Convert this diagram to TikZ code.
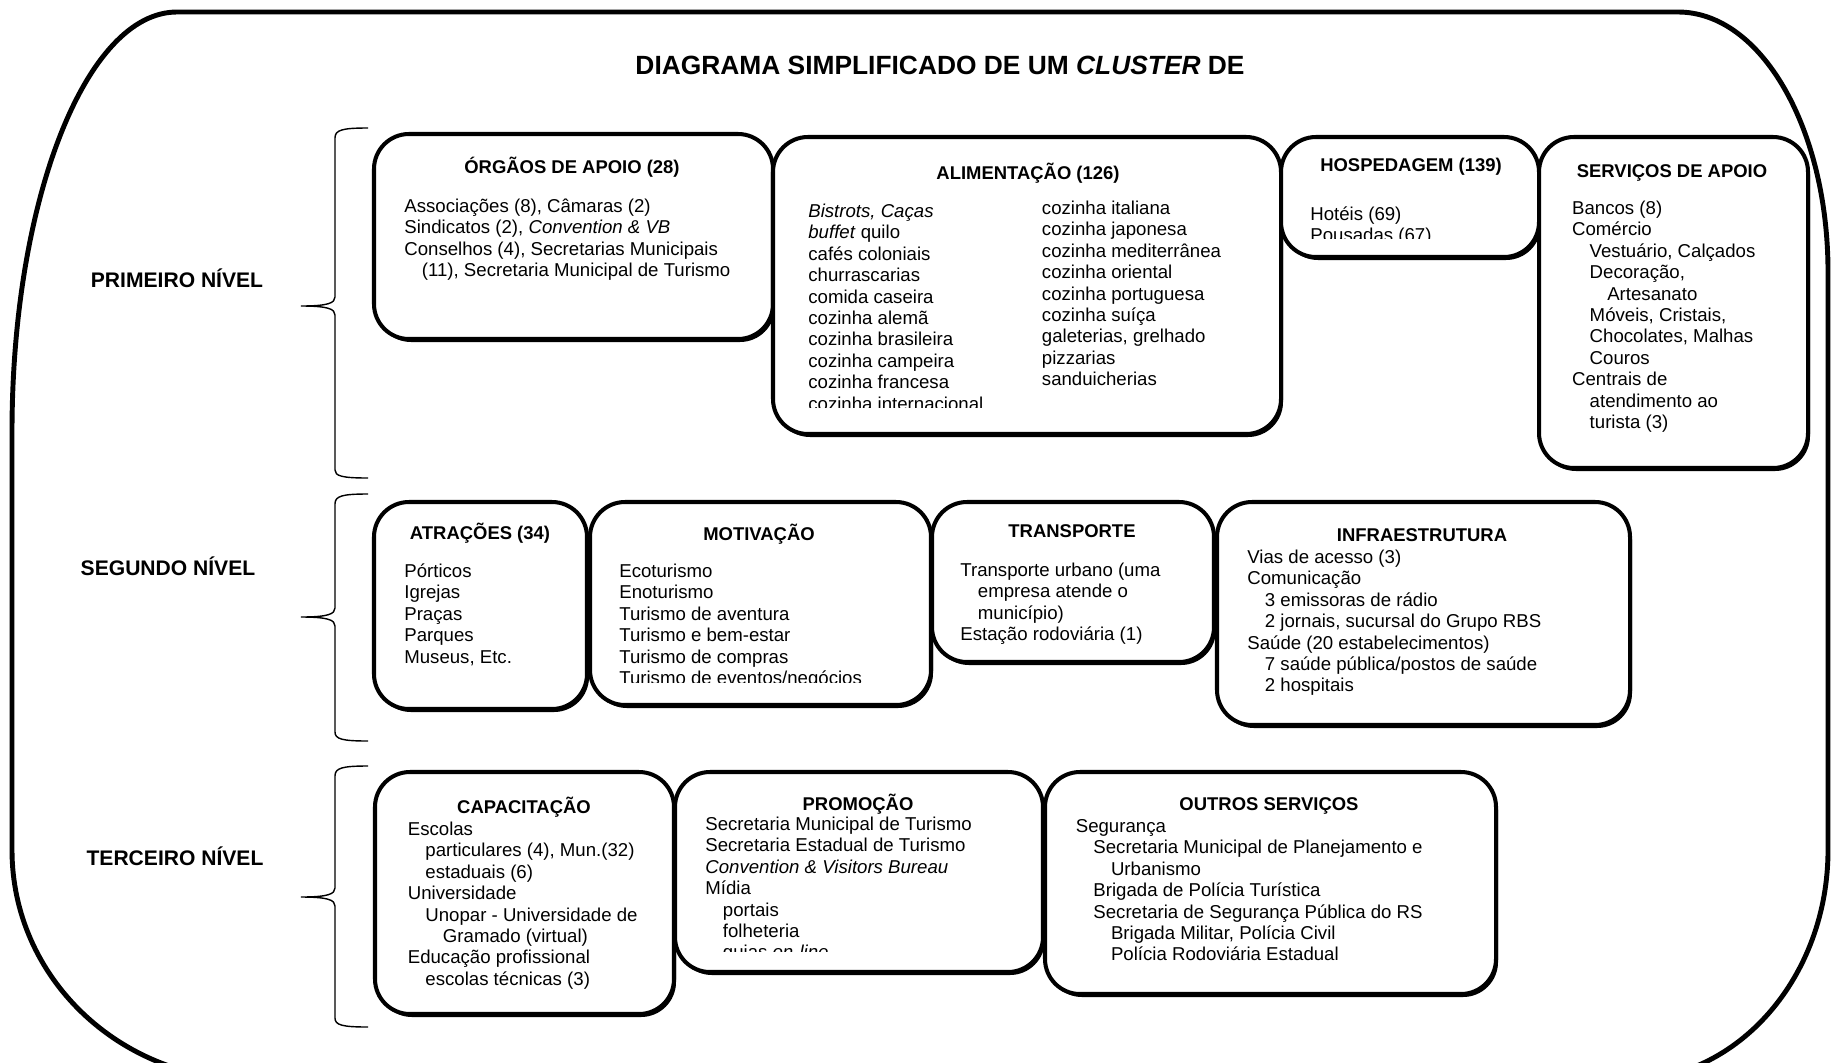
\documentclass[tikz,border=0pt]{standalone}
\usepackage{fontspec}
\setmainfont{Liberation Sans}
\newcommand\hfont{\fontsize{10.5}{12.2}\selectfont\bfseries}
\newcommand\bfont{\fontsize{10.6}{12.2}\selectfont}
\newcommand\lfont{\fontsize{12}{14}\selectfont\bfseries}
\newcommand\tfont{\fontsize{15}{18}\selectfont\bfseries}
\newcommand\fl{\rule{0pt}{10pt}}
\newcommand\ind{\hspace*{10pt}}
\begin{document}
\begin{tikzpicture}[x=0.02cm,y=-0.02cm,
  box/.style={line width=2.3pt, rounded corners=0.7cm, fill=white},
  shadowbox/.style={fill=black, rounded corners=0.7cm},
  hdr/.style={anchor=base, inner sep=0pt, font=\hfont},
  body/.style={anchor=north west, inner sep=0pt, align=left, font=\bfont},
  lvl/.style={anchor=base, inner sep=0pt, font=\lfont},
  brace/.style={line width=0.8pt}]
\path[use as bounding box] (0,0) rectangle (1831,1062);
\clip (0,0) rectangle (1831,1062);
\fill[white] (0,0) rectangle (1831,1062);

% outer frame
\draw[line width=2.8pt] (12,432) .. controls (12,200) and (86,12) .. (177,12) -- (1678,12)
  .. controls (1761,12) and (1828,128) .. (1828,272) -- (1828,850)
  .. controls (1828,977) and (1738,1080) .. (1628,1080) -- (252,1080)
  .. controls (119,1080) and (12,977) .. (12,850) -- cycle;

% title
\node[anchor=base, inner sep=0pt, font=\tfont] (title) at (940,74.5) {DIAGRAMA SIMPLIFICADO DE UM \textit{CLUSTER} DE};

% level labels
\node[lvl] (l1) at (177,287) {PRIMEIRO NÍVEL};
\node[lvl] (l2) at (168,575) {SEGUNDO NÍVEL};
\node[lvl] (l3) at (175,865) {TERCEIRO NÍVEL};

% braces
\draw[brace] (368,128) .. controls (342,128) and (335,130) .. (335,138) -- (335,297)
  .. controls (335,303) and (328,306) .. (301,306) .. controls (328,306) and (335,309) .. (335,315)
  -- (335,470) .. controls (335,476) and (342,478) .. (368,478);
\draw[brace] (368,494) .. controls (342,494) and (335,496) .. (335,504) -- (335,608)
  .. controls (335,614) and (328,617) .. (301,617) .. controls (328,617) and (335,620) .. (335,626)
  -- (335,732) .. controls (335,739) and (342,741) .. (368,741);
\draw[brace] (368,766) .. controls (342,766) and (335,768) .. (335,776) -- (335,888)
  .. controls (335,894) and (328,897) .. (301,897) .. controls (328,897) and (335,900) .. (335,906)
  -- (335,1018) .. controls (335,1025) and (342,1027) .. (368,1027);

% row 1 boxes
\fill[shadowbox] (376,137) rectangle (775,342);
\draw[box] (374,134) rectangle (773,339);
\fill[shadowbox] (775,140) rectangle (1283,437);
\draw[box] (773,137) rectangle (1281,434);
\fill[shadowbox] (1283,140) rectangle (1541,260);
\draw[box] (1281,137) rectangle (1539,257);
\fill[shadowbox] (1541,140) rectangle (1810,471);
\draw[box] (1539,137) rectangle (1808,468);

% row 2 boxes
\fill[shadowbox] (376,505) rectangle (589,712);
\draw[box] (374,502) rectangle (587,709);
\fill[shadowbox] (592,505) rectangle (933,708);
\draw[box] (590,502) rectangle (931,705);
\fill[shadowbox] (934,505) rectangle (1216,665);
\draw[box] (932,502) rectangle (1214,662);
\fill[shadowbox] (1219,505) rectangle (1632,728);
\draw[box] (1217,502) rectangle (1630,725);

% row 3 boxes
\fill[shadowbox] (377,775) rectangle (676,1017);
\draw[box] (375,772) rectangle (674,1014);
\fill[shadowbox] (677,775) rectangle (1045,975);
\draw[box] (675,772) rectangle (1043,972);
\fill[shadowbox] (1047,775) rectangle (1498,997);
\draw[box] (1045,772) rectangle (1496,994);

% headers
\node[hdr] (orgh) at (572,173) {ÓRGÃOS DE APOIO (28)};
\node[hdr] (alih) at (1028,179) {ALIMENTAÇÃO (126)};
\node[hdr] (hosph) at (1411,171) {HOSPEDAGEM (139)};
\node[hdr] (servh) at (1672,177) {SERVIÇOS DE APOIO};
\node[hdr] (atrh) at (480,539) {ATRAÇÕES (34)};
\node[hdr] (moth) at (759,540) {MOTIVAÇÃO};
\node[hdr] (trah) at (1072,537) {TRANSPORTE};
\node[hdr] (infh) at (1422,541) {INFRAESTRUTURA};
\node[hdr] (caph) at (524,813) {CAPACITAÇÃO};
\node[hdr] (proh) at (858,810) {PROMOÇÃO};
\node[hdr] (outh) at (1269,810) {OUTROS SERVIÇOS};

% bodies
\node[body] (orgb) at (404,194.4) {\fl Associações (8), Câmaras (2)\\
Sindicatos (2), \textit{Convention \& VB}\\
Conselhos (4), Secretarias Municipais\\
\ind (11), Secretaria Municipal de Turismo};

\begin{scope}
\clip (790,190) rectangle (1270,407);
\node[body] (alib1) at (808,199.4) {\fl\textit{Bistrots, Caças}\\
\textit{buffet} quilo\\
cafés coloniais\\
churrascarias\\
comida caseira\\
cozinha alemã\\
cozinha brasileira\\
cozinha campeira\\
cozinha francesa\\
cozinha internacional};
\end{scope}
\node[body] (alib2) at (1041.6,196.4) {\fl cozinha italiana\\
cozinha japonesa\\
cozinha mediterrânea\\
cozinha oriental\\
cozinha portuguesa\\
cozinha suíça\\
galeterias, grelhado\\
pizzarias\\
sanduicherias};

\begin{scope}
\clip (1295,190) rectangle (1530,238.5);
\node[body] (hospb) at (1310,202.4) {\fl Hotéis (69)\\
Pousadas (67)};
\end{scope}

\node[body] (servb) at (1571.8,196.4) {\fl Bancos (8)\\
Comércio\\
\ind Vestuário, Calçados\\
\ind Decoração,\\
\ind\ind Artesanato\\
\ind Móveis, Cristais,\\
\ind Chocolates, Malhas\\
\ind Couros\\
Centrais de\\
\ind atendimento ao\\
\ind turista (3)};

\node[body] (atrb) at (404,559.4) {\fl Pórticos\\
Igrejas\\
Praças\\
Parques\\
Museus, Etc.};

\begin{scope}
\clip (600,550) rectangle (925,682);
\node[body] (motb) at (619,559.4) {\fl Ecoturismo\\
Enoturismo\\
Turismo de aventura\\
Turismo e bem-estar\\
Turismo de compras\\
Turismo de eventos/negócios};
\end{scope}

\node[body] (trab) at (960,558.4) {\fl Transporte urbano (uma\\
\ind empresa atende o\\
\ind município)\\
Estação rodoviária (1)};

\node[body] (infb) at (1247,545.4) {\fl Vias de acesso (3)\\
Comunicação\\
\ind 3 emissoras de rádio\\
\ind 2 jornais, sucursal do Grupo RBS\\
Saúde (20 estabelecimentos)\\
\ind 7 saúde pública/postos de saúde\\
\ind 2 hospitais};

\node[body] (capb) at (407.5,817.4) {\fl Escolas\\
\ind particulares (4), Mun.(32)\\
\ind estaduais (6)\\
Universidade\\
\ind Unopar - Universidade de\\
\ind\ind Gramado (virtual)\\
Educação profissional\\
\ind escolas técnicas (3)};

\begin{scope}
\clip (690,815) rectangle (1035,951);
\node[body] (prob) at (705,812.4) {\fl Secretaria Municipal de Turismo\\
Secretaria Estadual de Turismo\\
\textit{Convention \& Visitors Bureau}\\
Mídia\\
\ind portais\\
\ind folheteria\\
\ind guias \textit{on-line}};
\end{scope}

\node[body] (outb) at (1075.5,814.4) {\fl Segurança\\
\ind Secretaria Municipal de Planejamento e\\
\ind\ind Urbanismo\\
\ind Brigada de Polícia Turística\\
\ind Secretaria de Segurança Pública do RS\\
\ind\ind Brigada Militar, Polícia Civil\\
\ind\ind Polícia Rodoviária Estadual};
\end{tikzpicture}
\end{document}
